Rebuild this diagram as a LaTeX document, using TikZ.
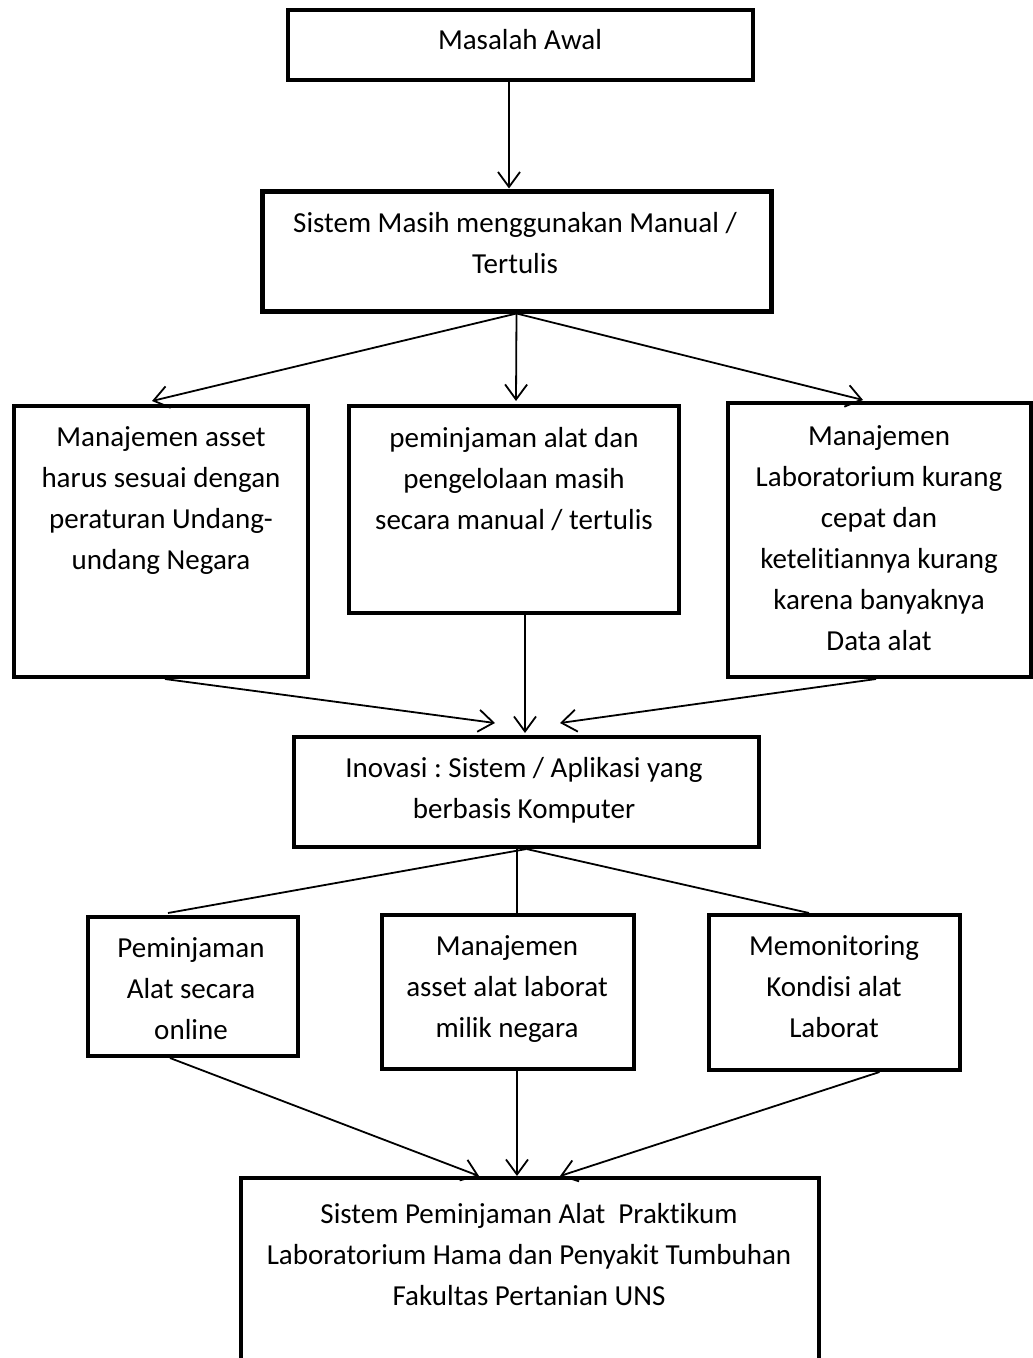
\documentclass[tikz,border=0pt]{standalone}
\usepackage{fontspec}
\setmainfont{Carlito}[Ligatures={NoCommon,NoContextual},Contextuals=NoAlternate]
\usetikzlibrary{arrows.meta,calc}
\frenchspacing
\begin{document}
\begin{tikzpicture}[x=1pt,y=-1pt,
  box/.style={draw,line width=4pt,rectangle,inner sep=0pt},
  txt/.style={align=center,inner sep=0pt,anchor=north,font=\fontsize{29}{41}\selectfont},
  arr/.style={line width=1.8pt,-{Straight Barb[length=15pt,width=22pt,line width=1.8pt]}},
  ln/.style={line width=1.8pt}]
\useasboundingbox (0,0) rectangle (1033,1358);
% boxes
\node[box,minimum width=465pt,minimum height=70pt] (b1) at (520.5,45) {};
\node[box,line width=5pt,minimum width=509pt,minimum height=120pt] (b2) at (516.5,251) {};
\node[box,minimum width=294pt,minimum height=271pt] (l1) at (161,541.5) {};
\node[box,minimum width=330pt,minimum height=207pt] (m1) at (514,509.5) {};
\node[box,minimum width=303pt,minimum height=274pt] (r1) at (879.5,540) {};
\node[box,minimum width=465pt,minimum height=110pt] (inov) at (526.5,792) {};
\node[box,minimum width=210pt,minimum height=139pt] (l2) at (193,986.5) {};
\node[box,minimum width=252pt,minimum height=154pt] (m2) at (508,992) {};
\node[box,minimum width=251pt,minimum height=155pt] (r2) at (834.5,992.5) {};
\node[box,minimum width=578pt,minimum height=244pt] (fin) at (530,1300) {};
% texts
\node[txt] (t1) at (520,20.3) {\strut Masalah Awal};
\node[txt] (t2) at (515,203.3) {\strut Sistem Masih menggunakan Manual /\\Tertulis};
\node[txt] (t3) at (161,417.3) {\strut Manajemen asset\\harus sesuai dengan\\peraturan Undang-\\undang Negara};
\node[txt] (t4) at (514,418.3) {\strut peminjaman alat dan\\pengelolaan masih\\secara manual / tertulis};
\node[txt] (t5) at (879,416.3) {\strut Manajemen\\Laboratorium kurang\\cepat dan\\ketelit\kern0pt iannya kurang\\karena banyaknya\\Data alat};
\node[txt] (t6) at (524,748.3) {\strut Inovasi : Sistem / Aplikasi yang\\berbasis Komputer};
\node[txt] (t7) at (191,928.3) {\strut Peminjaman\\Alat secara\\online};
\node[txt] (t8) at (507,926.3) {\strut Manajemen\\asset alat laborat\\milik negara};
\node[txt] (t9) at (834,926.3) {\strut Memonitoring\\Kondisi alat\\Laborat};
\node[txt] (t10) at (529,1194.3) {\strut Sistem Peminjaman Alat~~Prakt\kern0pt ikum\\Laboratorium Hama dan Penyakit Tumbuhan\\Fakultas Pertanian UNS};
% connectors
\draw[arr] ($(b1.south)+(-11.5,0)$) -- ($(b2.north)+(-7.5,0)$);
\draw[arr] (b2.south) -- ($(l1.north)+(-9,-3)$);
\draw[arr] (b2.south) -- ($(m1.north)+(2,-3)$);
\draw[arr] (b2.south) -- ($(r1.north)+(-16.5,-1)$);
\draw[arr] ($(l1.south)+(4,0)$) -- ($(inov.north)+(-31.5,-12)$);
\draw[arr] ($(m1.south)+(11,0)$) -- ($(inov.north)+(-1.5,-2)$);
\draw[arr] ($(r1.south)+(-3.5,0)$) -- ($(inov.north)+(33.5,-12)$);
\draw[ln] (inov.south) -- ($(l2.north)+(-25,-2)$);
\draw[ln] ($(inov.south)+(-9.5,0)$) -- ($(m2.north)+(9,0)$);
\draw[ln] (inov.south) -- ($(r2.north)+(-25.5,0)$);
\draw[arr] ($(l2.south)+(-23,0)$) -- ($(fin.north)+(-51,0)$);
\draw[arr] ($(m2.south)+(9,0)$) -- ($(fin.north)+(-13,0)$);
\draw[arr] ($(r2.south)+(45,0)$) -- ($(fin.north)+(30,0)$);
\end{tikzpicture}
\end{document}
